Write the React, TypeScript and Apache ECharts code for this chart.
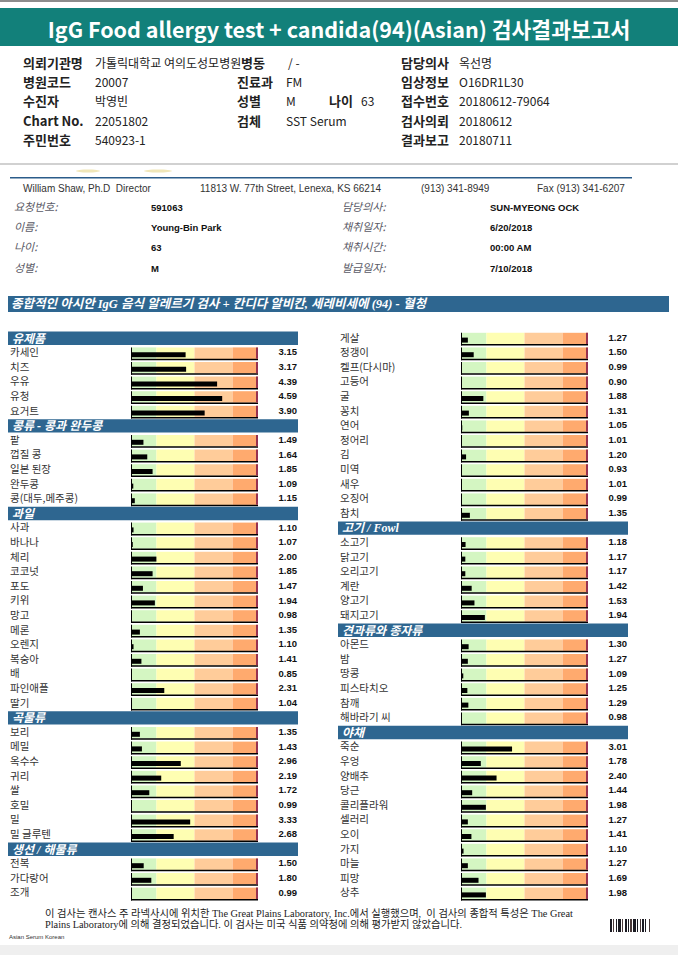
import React, { useEffect, useRef } from 'react';
import * as echarts from 'echarts';

// ---------- data ----------
const groupTitles = ['유제품', '콩류 - 콩과 완두콩', '과일', '곡물류', '생선 / 해물류', '고기 / Fowl', '견과류와 종자류', '야채'];
const dairyNames = ['카세인', '치즈', '우유', '유청', '요거트'];
const dairyValues = [3.15, 3.17, 4.39, 4.59, 3.9];
const legumeNames = ['팥', '껍질 콩', '일본 된장', '완두콩', '콩(대두,메주콩)'];
const legumeValues = [1.49, 1.64, 1.85, 1.09, 1.15];
const fruitNames = ['사과', '바나나', '체리', '코코넛', '포도', '키위', '망고', '메론', '오렌지', '복숭아', '배', '파인애플', '딸기'];
const fruitValues = [1.1, 1.07, 2.0, 1.85, 1.47, 1.94, 0.98, 1.35, 1.1, 1.41, 0.85, 2.31, 1.04];
const grainNames = ['보리', '메밀', '옥수수', '귀리', '쌀', '호밀', '밀', '밀 글루텐'];
const grainValues = [1.35, 1.43, 2.96, 2.19, 1.72, 0.99, 3.33, 2.68];
const seafoodNames = ['전복', '가다랑어', '조개', '게살', '정갱이', '켈프(다시마)', '고등어', '굴', '꽁치', '연어', '정어리', '김', '미역', '새우', '오징어', '참치'];
const seafoodValues = [1.5, 1.8, 0.99, 1.27, 1.5, 0.99, 0.9, 1.88, 1.31, 1.05, 1.01, 1.2, 0.93, 1.01, 0.99, 1.35];
const meatNames = ['소고기', '닭고기', '오리고기', '계란', '양고기', '돼지고기'];
const meatValues = [1.18, 1.17, 1.17, 1.42, 1.53, 1.94];
const nutNames = ['아몬드', '밤', '땅콩', '피스타치오', '참깨', '해바라기 씨'];
const nutValues = [1.3, 1.27, 1.09, 1.25, 1.29, 0.98];
const vegNames = ['죽순', '우엉', '양배추', '당근', '콜리플라워', '셀러리', '오이', '가지', '마늘', '피망', '상추'];
const vegValues = [3.01, 1.78, 2.4, 1.44, 1.98, 1.27, 1.41, 1.1, 1.27, 1.69, 1.98];

const scaleMin = 1;
const scaleMax = 6;
const bandLimits = [1, 2, 3.5, 5, 6];
const bandColors = ['#D4F6C2', '#FEFEB2', '#FFCC9A', '#FFAA6E'];

const barcodePattern = [2, 1, 1, 2, 1, 1, 3, 1, 1, 2, 2, 1, 1, 1, 2, 1, 3, 1, 1, 2, 1, 1, 2, 1, 1, 3, 1, 2];

// ---------- build rows ----------
type Row = { kind: 'h' | 'f'; name: string; value: number };
const groups = [
  { names: dairyNames, values: dairyValues },
  { names: legumeNames, values: legumeValues },
  { names: fruitNames, values: fruitValues },
  { names: grainNames, values: grainValues },
  { names: seafoodNames, values: seafoodValues },
  { names: meatNames, values: meatValues },
  { names: nutNames, values: nutValues },
  { names: vegNames, values: vegValues },
];
const rows: Row[] = [];
groups.forEach((g, gi) => {
  rows.push({ kind: 'h', name: groupTitles[gi], value: scaleMin });
  g.names.forEach((n, i) => rows.push({ kind: 'f', name: n, value: g.values[i] }));
});
const perCol = rows.length / 2;
const columns = [rows.slice(0, perCol), rows.slice(perCol)];
const rowIndexLabels = Array.from({ length: perCol }, (_, i) => String(i));

const KR = '"Noto Sans CJK KR"';

function makeRender(colRows: Row[]) {
  return (params: any, api: any) => {
    const r = colRows[params.dataIndex];
    const idx = api.value(1);
    const p1 = api.coord([scaleMin, idx]);
    const x1 = p1[0];
    const c = p1[1];
    const x6 = api.coord([scaleMax, idx])[0];
    if (r.kind === 'h') {
      return {
        type: 'group',
        children: [
          { type: 'rect', shape: { x: x1 - 123, y: c - 6.7, width: x6 + 40 - (x1 - 123), height: 13.4 }, style: { fill: '#2E6690' } },
          {
            type: 'text',
            style: {
              text: r.name, x: x1 - 119, y: c + 0.3, fill: '#ffffff',
              font: 'italic bold 12px "Liberation Serif", ' + KR, lineHeight: 11,
              align: 'left', verticalAlign: 'middle', textAlign: 'left', textVerticalAlign: 'middle',
            },
          },
        ],
      };
    }
    const children: any[] = [];
    for (let k = 0; k < 4; k++) {
      const a = api.coord([bandLimits[k], idx])[0];
      const b = api.coord([bandLimits[k + 1], idx])[0];
      children.push({ type: 'rect', shape: { x: a, y: c - 5.5, width: b - a, height: 11.5 }, style: { fill: bandColors[k] } });
    }
    if (r.value > scaleMin) {
      const xv = api.coord([r.value, idx])[0];
      children.push({ type: 'rect', shape: { x: x1, y: c - 0.7, width: xv - x1, height: 5 }, style: { fill: '#000' } });
    }
    children.push({ type: 'rect', shape: { x: x1, y: c - 5.5, width: 1, height: 12.8 }, style: { fill: '#000' } });
    children.push({ type: 'rect', shape: { x: x1, y: c + 5.8, width: x6 - x1, height: 1.5 }, style: { fill: '#000' } });
    children.push({ type: 'rect', shape: { x: x6 - 2, y: c - 5.5, width: 2, height: 11.3 }, style: { fill: '#963250' } });
    children.push({
      type: 'text',
      style: {
        text: r.name, x: x1 - 121, y: c - 1.2, fill: '#333',
        font: '10.5px ' + KR, lineHeight: 11,
        align: 'left', verticalAlign: 'middle', textAlign: 'left', textVerticalAlign: 'middle',
      },
    });
    children.push({
      type: 'text',
      style: {
        text: r.value.toFixed(2), x: x6 + 39, y: c - 1, fill: '#111',
        font: 'bold 9.5px "Liberation Sans", Arial', lineHeight: 10,
        align: 'right', verticalAlign: 'middle', textAlign: 'right', textVerticalAlign: 'middle',
      },
    });
    return { type: 'group', children };
  };
}

function txt(x: number, y: number, text: string, font: string, fill = '#222', align = 'left', extra: any = {}) {
  return {
    type: 'text',
    x, y,
    style: { text, font, fill, align, verticalAlign: 'middle', textAlign: align, textVerticalAlign: 'middle', ...extra },
  };
}

function buildGraphics() {
  const g: any[] = [];
  g.push({ type: 'rect', shape: { x: 0, y: 0, width: 678, height: 2 }, style: { fill: '#8c8c8c' } });
  g.push({ type: 'rect', shape: { x: 0, y: 8, width: 678, height: 38 }, style: { fill: '#12807A' } });
  g.push(txt(339, 28.5, 'IgG Food allergy test + candida(94)(Asian) 검사결과보고서', 'bold 21.5px ' + KR, '#ffffff', 'center'));

  const lab = 'bold 13px ' + KR;
  const val = '12px ' + KR;
  const ys = [62.5, 81.5, 100.5, 120.5, 139.5];
  g.push(txt(23, ys[0], '의뢰기관명', lab));
  g.push(txt(95, ys[0], '가톨릭대학교 여의도성모병원', val));
  g.push(txt(241, ys[0], '병동', lab, '#222', 'left', { backgroundColor: '#fff' }));
  g.push(txt(288, ys[0], '/ -', val));
  g.push(txt(401, ys[0], '담당의사', lab));
  g.push(txt(459, ys[0], '옥선명', val));

  g.push(txt(23, ys[1], '병원코드', lab));
  g.push(txt(95, ys[1], '20007', val));
  g.push(txt(237, ys[1], '진료과', lab));
  g.push(txt(286, ys[1], 'FM', val));
  g.push(txt(401, ys[1], '임상정보', lab));
  g.push(txt(459, ys[1], 'O16DR1L30', val));

  g.push(txt(23, ys[2], '수진자', lab));
  g.push(txt(95, ys[2], '박영빈', val));
  g.push(txt(237, ys[2], '성별', lab));
  g.push(txt(286, ys[2], 'M', val));
  g.push(txt(329, ys[2], '나이', lab));
  g.push(txt(361, ys[2], '63', val));
  g.push(txt(401, ys[2], '접수번호', lab));
  g.push(txt(459, ys[2], '20180612-79064', val));

  g.push(txt(23, ys[3], 'Chart No.', lab));
  g.push(txt(95, ys[3], '22051802', val));
  g.push(txt(237, ys[3], '검체', lab));
  g.push(txt(286, ys[3], 'SST Serum', val));
  g.push(txt(401, ys[3], '검사의뢰', lab));
  g.push(txt(459, ys[3], '20180612', val));

  g.push(txt(23, ys[4], '주민번호', lab));
  g.push(txt(95, ys[4], '540923-1', val));
  g.push(txt(401, ys[4], '결과보고', lab));
  g.push(txt(459, ys[4], '20180711', val));

  g.push({ type: 'rect', shape: { x: 0, y: 163.5, width: 678, height: 1 }, style: { fill: '#a4a4a4' } });
  g.push({ type: 'ellipse', shape: { cx: 88, cy: 171, rx: 12, ry: 1.5 }, style: { fill: '#eadb9a', opacity: 0.7 } });
  g.push({ type: 'ellipse', shape: { cx: 158, cy: 171, rx: 14, ry: 1.5 }, style: { fill: '#eadb9a', opacity: 0.7 } });
  g.push({ type: 'rect', shape: { x: 10, y: 177, width: 622, height: 1.5 }, style: { fill: '#2B5C8A' } });

  const addr = '10px "Liberation Sans", Arial';
  g.push(txt(23, 188, 'William Shaw, Ph.D  Director', addr, '#333'));
  g.push(txt(200, 188, '11813 W. 77th Street, Lenexa, KS 66214', addr, '#333'));
  g.push(txt(421, 188, '(913) 341-8949', addr, '#333'));
  g.push(txt(537, 188, 'Fax (913) 341-6207', addr, '#333'));

  const il = 'italic 11px ' + KR;
  const iv = 'bold 9.5px "Liberation Sans Narrow", "Liberation Sans", Arial';
  const ys2 = [207, 227, 247.5, 268];
  const l1 = ['요청번호:', '이름:', '나이:', '성별:'];
  const v1 = ['591063', 'Young-Bin Park', '63', 'M'];
  const l2 = ['담당의사:', '채취일자:', '채취시간:', '발급일자:'];
  const v2 = ['SUN-MYEONG OCK', '6/20/2018', '00:00 AM', '7/10/2018'];
  ys2.forEach((y, i) => {
    g.push(txt(14, y - 1.5, l1[i], il, '#5a5a66'));
    g.push(txt(151, y, v1[i], iv, '#111'));
    g.push(txt(342, y - 1.5, l2[i], il, '#5a5a66'));
    g.push(txt(490, y, v2[i], iv, '#111'));
  });

  g.push({ type: 'rect', shape: { x: 8, y: 296, width: 661, height: 16 }, style: { fill: '#2E6690' } });
  g.push(txt(11, 304, '종합적인 아시안 IgG 음식 알레르기 검사 + 칸디다 알비칸, 세레비세에 (94) - 혈청', 'italic bold 12.5px "Liberation Serif", ' + KR, '#ffffff'));

  const disc = '10.3px "Liberation Serif", ' + KR;
  g.push(txt(45, 913, '이 검사는 캔사스 주 라넥사시에 위치한 The Great Plains Laboratory, Inc.에서 실행했으며,  이 검사의 종합적 특성은 The Great', disc, '#222'));
  g.push(txt(45, 924, 'Plains Laboratory에 의해 결정되었습니다. 이 검사는 미국 식품 의약청에 의해 평가받지 않았습니다.', disc, '#222'));
  g.push(txt(9, 937, 'Asian Serum Korean', '6px "Liberation Sans", Arial', '#333'));

  let bx = 610;
  barcodePattern.forEach((w, i) => {
    if (i % 2 === 0) {
      g.push({ type: 'rect', shape: { x: bx, y: 919, width: w, height: 13 }, style: { fill: i % 6 === 2 ? '#4a3a3a' : '#1a1a22' } });
    }
    bx += w;
  });

  g.push({ type: 'rect', shape: { x: 0, y: 945, width: 678, height: 10 }, style: { fill: '#efefef' } });
  return g;
}

export default function App() {
  const ref = useRef<HTMLDivElement>(null);
  useEffect(() => {
    if (!ref.current) return;
    const chart = echarts.init(ref.current, null, { renderer: 'svg' });
    const gridTop = 331;
    const gridHeight = 14.6 * perCol;
    const option: any = {
      animation: false,
      backgroundColor: '#ffffff',
      grid: [
        { left: 131, top: gridTop, width: 127, height: gridHeight },
        { left: 461, top: gridTop, width: 127, height: gridHeight },
      ],
      xAxis: [0, 1].map((i) => ({ type: 'value', gridIndex: i, min: scaleMin, max: scaleMax, show: false })),
      yAxis: [0, 1].map((i) => ({ type: 'category', gridIndex: i, data: rowIndexLabels, inverse: true, show: false })),
      series: columns.map((col, i) => ({
        type: 'custom',
        xAxisIndex: i,
        yAxisIndex: i,
        clip: false,
        encode: { x: 0, y: 1 },
        data: col.map((r, j) => [r.value, j]),
        renderItem: makeRender(col),
      })),
      graphic: { elements: buildGraphics() },
    };
    chart.setOption(option);
    return () => chart.dispose();
  }, []);
  return <div ref={ref} style={{ position: 'fixed', left: 0, top: 0, width: 678, height: 955, background: '#fff' }} />;
}
